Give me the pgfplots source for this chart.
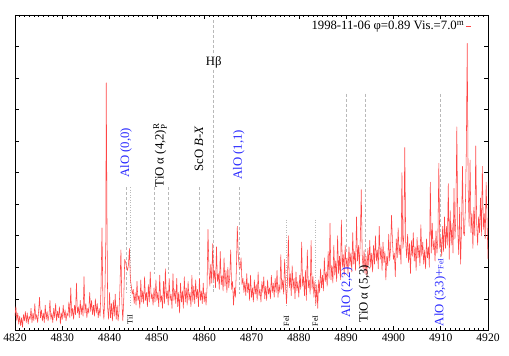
\documentclass[border=0pt]{standalone}
\usepackage{fontspec}
\setmainfont{Liberation Serif}
\usepackage{amsmath}
\usepackage{pgfplots}
\pgfplotsset{compat=1.18}
\definecolor{linegray}{RGB}{185,185,185}
\definecolor{alo}{RGB}{40,40,255}
\definecolor{spec}{RGB}{255,70,70}

\begin{document}
\begin{tikzpicture}
\fill[white] (-14bp,-25bp) rectangle (495bp,331bp);
\begin{axis}[
    name=ax,
    at={(0bp,0bp)}, anchor=south west,
    scale only axis,
    width=474bp, height=316bp,
    xmin=4820, xmax=4920, ymin=0, ymax=10,
    xtick={4820,4830,...,4920},
    minor x tick num=9,
    ytick={0,1,...,10},
    yticklabels={},
    tick align=inside,
    major tick length=4bp,
    minor tick length=2bp,
    every tick/.style={black, line width=0.5pt},
    axis line style={line width=0.8pt},
    ticklabel style={font=\fontsize{11.7}{13}\selectfont},
    /pgf/number format/1000 sep={},
    /pgf/number format/assume math mode=true,
    legend plot pos=right,
    legend image code/.code={\draw[spec, line width=0.5pt] (0bp,0bp) -- (5bp,0bp);},
    legend style={at={(rel axis cs:0.968,0.99)}, anchor=north east, draw=none, fill=none,
        font=\fontsize{12.8}{14}\selectfont, inner sep=1pt},
]

% reference lines (dashed: band heads, dotted: atomic lines)
\addplot[forget plot, linegray, dash pattern=on 3bp off 2bp] coordinates {(4843.5,4.53) (4843.5,1.20)};
\addplot[forget plot, linegray, dash pattern=on 1bp off 1.5bp] coordinates {(4844.3,4.53) (4844.3,0.75)};
\addplot[forget plot, linegray, dash pattern=on 3bp off 2bp] coordinates {(4849.5,4.53) (4849.5,1.80)};
\addplot[forget plot, linegray, dash pattern=on 3bp off 2bp] coordinates {(4852.3,4.53) (4852.3,1.80)};
\addplot[forget plot, linegray, dash pattern=on 3bp off 2bp] coordinates {(4859.0,4.53) (4859.0,1.70)};
\addplot[forget plot, linegray, dash pattern=on 3bp off 2bp] coordinates {(4862.0,9.84) (4862.0,1.20)};
\addplot[forget plot, linegray, dash pattern=on 3bp off 2bp] coordinates {(4867.3,4.53) (4867.3,1.14)};
\addplot[forget plot, linegray, dash pattern=on 1bp off 1.5bp] coordinates {(4877.4,3.50) (4877.4,0.75)};
\addplot[forget plot, linegray, dash pattern=on 1bp off 1.5bp] coordinates {(4883.5,3.50) (4883.5,0.75)};
\addplot[forget plot, linegray, dash pattern=on 3bp off 2bp] coordinates {(4890.1,7.50) (4890.1,2.50)};
\addplot[forget plot, linegray, dash pattern=on 3bp off 2bp] coordinates {(4894.1,7.50) (4894.1,2.00)};
\addplot[forget plot, linegray, dash pattern=on 3bp off 2bp] coordinates {(4909.9,7.50) (4909.9,2.25)};

% spectrum
\addplot[spec, line width=0.55pt, line join=round] coordinates {
(4820.0,0.45) (4820.2,0.75) (4820.4,0.30) (4820.6,0.55) (4820.8,0.20)
(4821.0,0.45) (4821.2,0.15) (4821.4,0.40) (4821.6,0.10) (4821.8,0.50)
(4822.0,0.30) (4822.2,0.60) (4822.4,0.25) (4822.6,0.55) (4822.8,0.20)
(4823.0,0.45) (4823.2,0.35) (4823.4,0.70) (4823.6,0.25) (4823.8,0.55)
(4824.0,0.30) (4824.2,0.85) (4824.4,0.35) (4824.6,0.50) (4824.8,0.25)
(4825.0,0.60) (4825.2,1.05) (4825.4,0.40) (4825.6,0.65) (4825.8,0.30)
(4826.0,0.55) (4826.2,0.25) (4826.4,0.80) (4826.6,0.35) (4826.8,0.60)
(4827.0,0.30) (4827.2,0.50) (4827.4,0.95) (4827.6,0.35) (4827.8,0.55)
(4828.0,0.25) (4828.2,0.70) (4828.4,0.40) (4828.6,0.85) (4828.8,0.30)
(4829.0,0.60) (4829.2,0.40) (4829.4,0.75) (4829.6,0.20) (4829.8,0.55)
(4830.0,0.35) (4830.2,0.80) (4830.4,0.40) (4830.6,0.65) (4830.8,0.30)
(4831.0,0.55) (4831.2,0.45) (4831.4,0.90) (4831.6,0.40) (4831.8,1.35)
(4832.0,0.45) (4832.2,0.70) (4832.4,0.35) (4832.6,0.80) (4832.8,0.50)
(4833.0,1.50) (4833.2,0.55) (4833.4,0.75) (4833.6,0.40) (4833.8,0.95)
(4834.0,0.50) (4834.2,0.80) (4834.4,0.45) (4834.6,1.70) (4834.8,0.55)
(4835.0,0.85) (4835.2,0.40) (4835.4,0.70) (4835.6,0.55) (4835.8,1.20)
(4836.0,0.60) (4836.2,0.95) (4836.4,0.50) (4836.6,0.80) (4836.8,0.45)
(4837.0,1.00) (4837.2,0.55) (4837.4,0.85) (4837.6,0.40) (4837.8,0.70)
(4838.0,0.45) (4838.2,1.40) (4838.4,3.25) (4838.6,0.80) (4838.8,0.35)
(4839.0,1.10) (4839.2,2.80) (4839.3,7.85) (4839.45,3.60) (4839.6,0.70)
(4839.8,0.35) (4840.0,1.20) (4840.2,0.40) (4840.4,0.85) (4840.6,0.30)
(4840.8,0.95) (4841.0,0.45) (4841.2,1.15) (4841.4,0.35) (4841.6,0.80)
(4841.8,0.30) (4842.0,0.60) (4842.2,1.40) (4842.4,2.55) (4842.6,0.90)
(4842.8,0.30) (4843.0,1.00) (4843.2,2.25) (4843.4,2.15) (4843.6,2.00)
(4843.8,1.90) (4844.0,2.10) (4844.2,2.60) (4844.4,1.60) (4844.6,1.40)
(4844.8,1.15) (4845.0,1.30) (4845.2,0.85) (4845.4,1.20) (4845.6,0.80)
(4845.8,1.55) (4846.0,0.95) (4846.2,1.10) (4846.4,0.70) (4846.6,1.60)
(4846.8,0.90) (4847.0,1.25) (4847.2,0.85) (4847.4,1.70) (4847.6,0.95)
(4847.8,1.20) (4848.0,0.75) (4848.2,1.45) (4848.4,0.90) (4848.6,1.85)
(4848.8,1.00) (4849.0,1.15) (4849.2,0.80) (4849.4,1.35) (4849.6,0.90)
(4849.8,1.60) (4850.0,0.95) (4850.2,1.20) (4850.4,0.75) (4850.6,1.75)
(4850.8,0.90) (4851.0,1.10) (4851.2,0.70) (4851.4,1.55) (4851.6,0.85)
(4851.8,1.95) (4852.0,1.00) (4852.2,1.25) (4852.4,0.80) (4852.6,1.65)
(4852.8,0.95) (4853.0,1.15) (4853.2,0.70) (4853.4,1.80) (4853.6,0.95)
(4853.8,1.30) (4854.0,0.85) (4854.2,1.65) (4854.4,0.75) (4854.6,1.20)
(4854.8,0.55) (4855.0,1.50) (4855.2,0.90) (4855.4,1.25) (4855.6,0.70)
(4855.8,1.70) (4856.0,0.90) (4856.2,1.35) (4856.4,0.80) (4856.6,1.55)
(4856.8,0.95) (4857.0,1.20) (4857.2,0.75) (4857.4,1.75) (4857.6,0.90)
(4857.8,1.40) (4858.0,0.85) (4858.2,1.60) (4858.4,1.00) (4858.6,1.30)
(4858.8,0.75) (4859.0,1.65) (4859.2,0.95) (4859.4,1.25) (4859.6,0.85)
(4859.8,1.50) (4860.0,0.90) (4860.2,1.20) (4860.4,0.80) (4860.6,1.35)
(4860.8,3.20) (4861.0,2.00) (4861.2,1.40) (4861.4,2.10) (4861.6,1.50)
(4861.8,2.75) (4862.0,1.60) (4862.2,1.90) (4862.4,1.35) (4862.6,2.65)
(4862.8,1.55) (4863.0,1.80) (4863.2,1.30) (4863.4,2.50) (4863.6,1.45)
(4863.8,1.75) (4864.0,1.25) (4864.2,2.30) (4864.4,1.40) (4864.6,1.90)
(4864.8,1.20) (4865.0,2.00) (4865.2,1.35) (4865.4,1.70) (4865.6,2.55)
(4865.8,1.30) (4866.0,1.55) (4866.2,0.80) (4866.4,1.35) (4866.6,1.05)
(4866.8,1.90) (4867.0,3.30) (4867.2,2.40) (4867.4,2.00) (4867.6,1.95)
(4867.8,2.30) (4868.0,1.45) (4868.2,1.65) (4868.4,1.20) (4868.6,1.55)
(4868.8,1.10) (4869.0,1.80) (4869.2,1.20) (4869.4,1.50) (4869.6,0.95)
(4869.8,1.75) (4870.0,1.05) (4870.2,1.35) (4870.4,0.90) (4870.6,1.60)
(4870.8,1.15) (4871.0,1.45) (4871.2,0.95) (4871.4,1.85) (4871.6,1.10)
(4871.8,1.30) (4872.0,0.90) (4872.2,1.55) (4872.4,1.20) (4872.6,1.70)
(4872.8,1.00) (4873.0,1.40) (4873.2,0.95) (4873.4,1.60) (4873.6,1.15)
(4873.8,1.35) (4874.0,1.00) (4874.2,1.75) (4874.4,1.20) (4874.6,1.50)
(4874.8,1.05) (4875.0,1.65) (4875.2,1.20) (4875.4,1.90) (4875.6,1.05)
(4875.8,1.45) (4876.0,1.20) (4876.2,2.40) (4876.4,1.30) (4876.6,1.60)
(4876.8,1.15) (4877.0,2.25) (4877.2,1.40) (4877.4,0.85) (4877.6,1.55)
(4877.8,3.00) (4878.0,1.35) (4878.2,1.80) (4878.4,1.10) (4878.6,2.05)
(4878.8,1.30) (4879.0,1.65) (4879.2,1.00) (4879.4,1.85) (4879.6,1.25)
(4879.8,1.55) (4880.0,1.05) (4880.2,1.75) (4880.4,1.30) (4880.6,2.80)
(4880.8,1.40) (4881.0,1.70) (4881.2,1.10) (4881.4,1.90) (4881.6,0.95)
(4881.8,2.55) (4882.0,1.35) (4882.2,1.60) (4882.4,1.15) (4882.6,2.85)
(4882.8,1.30) (4883.0,1.70) (4883.2,1.05) (4883.4,1.55) (4883.6,0.80)
(4883.8,1.45) (4884.0,0.70) (4884.2,1.60) (4884.4,1.20) (4884.6,1.95)
(4884.8,1.35) (4885.0,1.75) (4885.2,1.25) (4885.4,2.30) (4885.6,1.55)
(4885.8,1.85) (4886.0,1.40) (4886.2,2.50) (4886.4,1.65) (4886.6,3.40)
(4886.8,1.60) (4887.0,2.05) (4887.2,1.50) (4887.4,2.70) (4887.6,1.75)
(4887.8,2.20) (4888.0,1.55) (4888.2,3.00) (4888.4,1.80) (4888.6,2.35)
(4888.8,1.60) (4889.0,3.50) (4889.2,2.00) (4889.4,2.40) (4889.6,1.75)
(4889.8,2.70) (4890.0,2.00) (4890.2,2.30) (4890.4,1.80) (4890.6,2.65)
(4890.8,2.05) (4891.0,2.45) (4891.2,1.85) (4891.4,3.10) (4891.6,2.10)
(4891.8,2.50) (4892.0,1.90) (4892.2,3.60) (4892.4,2.20) (4892.6,2.70)
(4892.8,2.00) (4893.0,2.90) (4893.2,4.46) (4893.4,2.40) (4893.6,1.95)
(4893.8,2.55) (4894.0,1.80) (4894.2,2.35) (4894.4,1.70) (4894.6,2.60)
(4894.8,2.05) (4895.0,2.85) (4895.2,2.00) (4895.4,2.45) (4895.6,1.85)
(4895.8,2.70) (4896.0,2.10) (4896.2,3.00) (4896.4,2.20) (4896.6,2.55)
(4896.8,1.95) (4897.0,3.30) (4897.2,2.25) (4897.4,2.65) (4897.6,1.90)
(4897.8,2.80) (4898.0,2.15) (4898.2,2.50) (4898.4,1.60) (4898.6,2.35)
(4898.8,2.05) (4899.0,3.05) (4899.2,2.20) (4899.4,2.60) (4899.6,3.65)
(4899.8,2.80) (4900.0,2.25) (4900.2,2.45) (4900.4,1.70) (4900.6,2.90)
(4900.8,2.30) (4901.0,3.25) (4901.2,2.40) (4901.4,2.70) (4901.6,2.10)
(4901.8,5.00) (4902.0,2.60) (4902.2,2.95) (4902.4,5.80) (4902.6,2.80)
(4902.8,2.30) (4903.0,3.05) (4903.2,2.15) (4903.4,2.75) (4903.6,1.80)
(4903.8,2.85) (4904.0,2.35) (4904.2,3.10) (4904.4,2.20) (4904.6,2.65)
(4904.8,1.90) (4905.0,2.95) (4905.2,2.30) (4905.4,2.70) (4905.6,2.05)
(4905.8,3.35) (4906.0,2.35) (4906.2,2.80) (4906.4,2.10) (4906.6,2.55)
(4906.8,1.95) (4907.0,2.90) (4907.2,2.30) (4907.4,2.65) (4907.6,2.00)
(4907.8,4.70) (4908.0,2.45) (4908.2,3.40) (4908.4,2.55) (4908.6,2.85)
(4908.8,2.20) (4909.0,3.15) (4909.2,2.45) (4909.4,2.90) (4909.6,5.30)
(4909.8,2.60) (4910.0,2.95) (4910.2,2.35) (4910.4,3.30) (4910.6,2.50)
(4910.8,3.60) (4911.0,2.60) (4911.2,3.30) (4911.4,2.70) (4911.6,4.65)
(4911.8,2.25) (4912.0,3.80) (4912.2,2.70) (4912.4,3.40) (4912.6,2.45)
(4912.8,4.50) (4913.0,2.90) (4913.2,3.60) (4913.4,6.45) (4913.6,3.20)
(4913.8,2.40) (4914.0,3.90) (4914.2,2.10) (4914.4,3.30) (4914.6,5.20)
(4914.8,3.10) (4915.0,3.00) (4915.2,3.80) (4915.4,5.60) (4915.6,9.10)
(4915.8,4.50) (4916.0,3.30) (4916.2,5.40) (4916.4,3.10) (4916.6,3.70)
(4916.8,2.60) (4917.0,3.90) (4917.2,3.00) (4917.4,5.85) (4917.6,3.40)
(4917.8,2.70) (4918.0,3.60) (4918.2,3.10) (4918.4,4.20) (4918.6,3.00)
(4918.8,5.20) (4919.0,3.20) (4919.2,3.70) (4919.4,2.90) (4919.6,4.70)
(4919.8,3.40) (4920.0,2.25)
};
\addlegendentry{1998-11-06 φ=0.89 Vis.=7.0\textsuperscript{m}}

% labels
\begin{scope}[every node/.style={font=\fontsize{12.8}{14}\selectfont, inner sep=0pt}]
\node[alo, rotate=90, anchor=west] at (axis cs:4843.5,4.84) {AlO (0,0)};
\node[rotate=90, anchor=west] at (axis cs:4850.7,4.53) {TiO α (4,2)$^{\text{R}}_{\text{P}}$};
\node[rotate=90, anchor=west] at (axis cs:4858.9,5.04) {ScO \textit{B-X}};
\node[alo, rotate=90, anchor=west] at (axis cs:4867.3,4.78) {AlO (1,1)};
\node[fill=white, inner sep=1.5pt] at (axis cs:4862.0,8.51) {Hβ};
\node[alo, rotate=90, anchor=west] at (axis cs:4890.2,0.41) {AlO (2,2)};
\node[rotate=90, anchor=west] at (axis cs:4893.9,0.25) {TiO α (5,3)};
\node[alo, rotate=90, anchor=west] at (axis cs:4909.9,0.13) {AlO (3,3)+{\fontsize{8}{9}\selectfont FeI}};
\end{scope}
\begin{scope}[every node/.style={font=\fontsize{8}{9}\selectfont, inner sep=0pt}]
\node[rotate=90, anchor=west] at (axis cs:4844.3,0.19) {TiI};
\node[rotate=90, anchor=west] at (axis cs:4877.4,0.13) {FeI};
\node[rotate=90, anchor=west] at (axis cs:4883.5,0.13) {FeI};
\end{scope}
\end{axis}
\end{tikzpicture}
\end{document}
